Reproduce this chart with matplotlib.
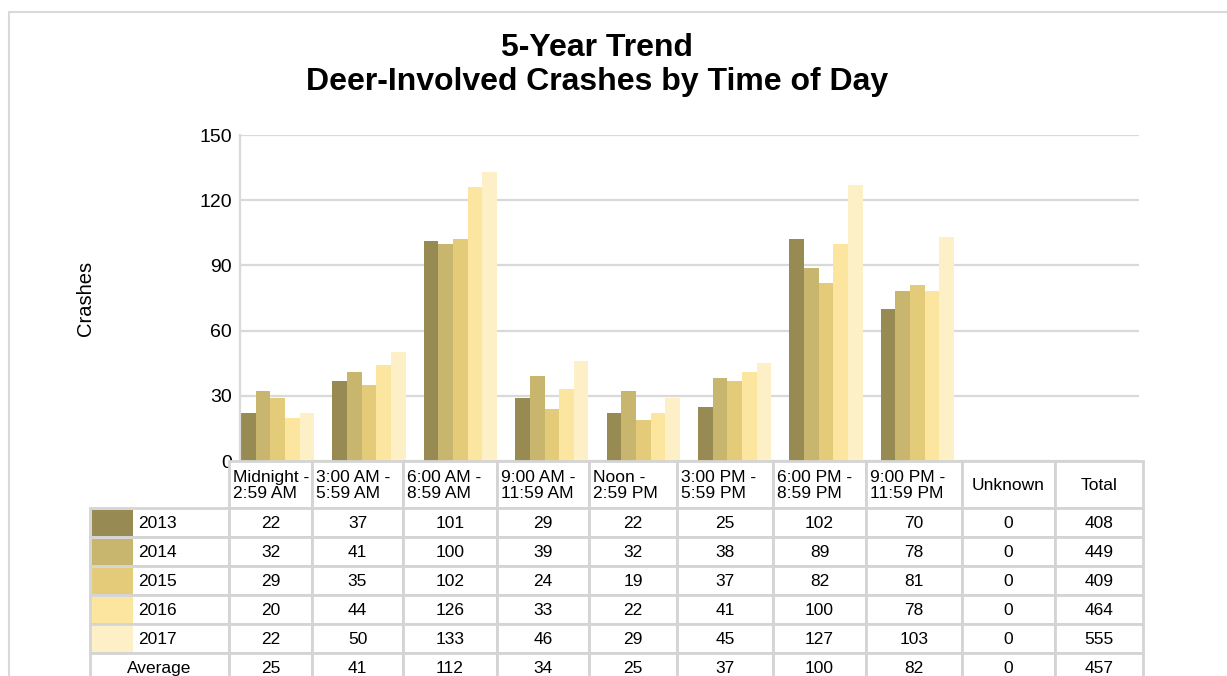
import matplotlib.pyplot as plt
from matplotlib.patches import Rectangle
import numpy as np

plt.rcParams['font.family'] = ['Liberation Sans', 'DejaVu Sans']

# data
categories = ["Midnight -\n2:59 AM", "3:00 AM -\n5:59 AM", "6:00 AM -\n8:59 AM",
              "9:00 AM -\n11:59 AM", "Noon -\n2:59 PM", "3:00 PM -\n5:59 PM",
              "6:00 PM -\n8:59 PM", "9:00 PM -\n11:59 PM", "Unknown", "Total"]
years = ["2013", "2014", "2015", "2016", "2017"]
v2013 = [22, 37, 101, 29, 22, 25, 102, 70, 0, 408]
v2014 = [32, 41, 100, 39, 32, 38, 89, 78, 0, 449]
v2015 = [29, 35, 102, 24, 19, 37, 82, 81, 0, 409]
v2016 = [20, 44, 126, 33, 22, 41, 100, 78, 0, 464]
v2017 = [22, 50, 133, 46, 29, 45, 127, 103, 0, 555]
average = [25, 41, 112, 34, 25, 37, 100, 82, 0, 457]
series = [v2013, v2014, v2015, v2016, v2017]
colors = ["#978a52", "#c8b56e", "#e3cb7a", "#fce69f", "#fef0c6"]

W, H = 1227, 676
fig = plt.figure(figsize=(W / 100, H / 100), dpi=100)

grid_c = "#d9d9d9"
ax = fig.add_axes([240 / W, 1 - 461 / H, 899 / W, 326 / H])
nbar = 9  # bars for every category except Total
bw = 0.16
x = np.arange(nbar)
for k, (vals, c) in enumerate(zip(series, colors)):
    ax.bar(x + k * bw, vals[:nbar], width=bw, align='edge', color=c, zorder=2)
ax.set_xlim(-0.012, 9.825)
ax.set_ylim(0, 150)
ax.set_yticks([0, 30, 60, 90, 120, 150])
ax.tick_params(axis='y', length=0, labelsize=14, pad=6)
ax.set_xticks([])
ax.grid(axis='y', color=grid_c, lw=1.6, zorder=0)
for s in ['top', 'right', 'bottom']:
    ax.spines[s].set_visible(False)
ax.spines['left'].set_color(grid_c)
ax.spines['left'].set_linewidth(1.6)

fig.text(85 / W, 1 - 298 / H, "Crashes", rotation=90, ha='center', va='center', fontsize=14.5)
fig.text(597 / W, 1 - 65 / H, "5-Year Trend\nDeer-Involved Crashes by Time of Day",
         ha='center', va='center', fontsize=23, fontweight='bold', linespacing=1.15)

# table + page frame drawn in pixel coordinates
tx = fig.add_axes([0, 0, 1, 1], zorder=5)
tx.set_xlim(0, W)
tx.set_ylim(H, 0)
tx.axis('off')
tx.patch.set_alpha(0)

tx.plot([8, W], [11.5, 11.5], color=grid_c, lw=1.5, solid_capstyle='butt')
tx.plot([8.5, 8.5], [11, H], color=grid_c, lw=1.5, solid_capstyle='butt')

col_edges = [229, 312, 403, 497, 589, 677, 773, 866, 962, 1055, 1143]
lab_left = 90
head_top, head_bot = 461, 508
row_h = 29
line_c = "#d4d4d4"
lw = 2.0
fs = 12.5

def cell(x0, y0, x1, y1):
    tx.add_patch(Rectangle((x0, y0), x1 - x0, y1 - y0, facecolor='white',
                           edgecolor=line_c, lw=lw))

for i, cat in enumerate(categories):
    x0, x1 = col_edges[i], col_edges[i + 1]
    cell(x0, head_top, x1, head_bot)
    if "\n" in cat:
        tx.text(x0 + 4, (head_top + head_bot) / 2 + 1, cat, ha='left', va='center',
                fontsize=fs, linespacing=1.08)
    else:
        tx.text((x0 + x1) / 2, (head_top + head_bot) / 2 + 1, cat, ha='center', va='center',
                fontsize=fs)

rows = list(zip(years, series)) + [("Average", average)]
for r, (name, vals) in enumerate(rows):
    y0 = head_bot + r * row_h
    y1 = y0 + row_h
    yc = (y0 + y1) / 2 + 1
    cell(lab_left, y0, col_edges[0], y1)
    if r < len(years):
        tx.add_patch(Rectangle((lab_left + 2, y0 + 1.5), 41, row_h - 3, facecolor=colors[r],
                               edgecolor='none'))
        tx.text(138, yc, name, ha='left', va='center', fontsize=fs)
    else:
        tx.text((lab_left + col_edges[0]) / 2, yc, name, ha='center', va='center', fontsize=fs)
    for i, v in enumerate(vals):
        x0, x1 = col_edges[i], col_edges[i + 1]
        cell(x0, y0, x1, y1)
        tx.text((x0 + x1) / 2, yc, str(v), ha='center', va='center', fontsize=fs)

fig.savefig("out.png", dpi=100, facecolor='white')
